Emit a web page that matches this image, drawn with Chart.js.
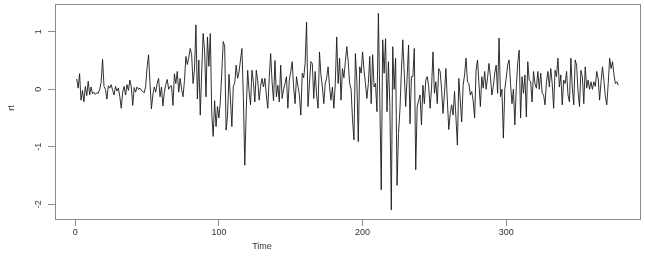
<!DOCTYPE html>
<html>
<head>
<meta charset="utf-8">
<script src="https://cdn.jsdelivr.net/npm/chart.js@4/dist/chart.umd.min.js"></script>
<style>
  html, body { margin: 0; padding: 0; background: #fff; }
  canvas { display: block; }
</style>
</head>
<body>
<canvas id="c" width="645" height="256"></canvas>
<script>
// ---- data ----
const rt = [
  0.18, 0.02, 0.27, -0.19, -0.02, -0.22, 0.05, -0.11, 0.14, -0.1,
  0.04, -0.08, -0.05, -0.09, -0.06, -0.07, 0.0, 0.12, 0.52, 0.05,
  0.0, -0.17, 0.06, 0.02, 0.08, -0.02, -0.1, 0.05, -0.03, 0.02,
  -0.13, -0.33, -0.05, 0.05, -0.1, 0.08, -0.02, 0.16, 0.04, -0.28,
  0.03, -0.05, 0.04, 0.0, 0.02, -0.02, -0.04, -0.06, 0.05, 0.38,
  0.6, 0.12, -0.34, -0.1, 0.04, -0.05, 0.1, 0.19, -0.13, 0.04,
  -0.29, -0.05, 0.08, 0.17, 0.0, 0.05, 0.06, -0.28, 0.27, 0.1,
  0.31, -0.05, 0.19, 0.0, -0.13, 0.15, 0.57, 0.43, 0.55, 0.71,
  0.6, 0.1, 0.35, 1.12, -0.17, 0.51, -0.45, 0.3, 0.97, 0.68,
  -0.13, 0.91, 0.4, 0.97, -0.42, -0.82, -0.2, -0.65, -0.3, -0.5,
  -0.2, 0.3, 0.83, 0.75, -0.71, -0.45, 0.26, -0.15, -0.65, 0.05,
  0.11, 0.42, 0.19, 0.3, 0.51, 0.71, -0.13, -1.32, -0.36, 0.33,
  -0.04, -0.27, 0.33, 0.12, -0.22, 0.33, 0.15, -0.19, 0.05, 0.19,
  0.04, 0.19, -0.1, -0.33, 0.2, 0.62, 0.13, -0.2, 0.5, -0.13,
  0.07, -0.22, 0.42, -0.16, 0.0, 0.1, 0.22, -0.33, 0.16, 0.31,
  0.48, 0.04, -0.25, 0.22, 0.05, -0.1, -0.45, 0.28, 0.2, 0.45,
  1.17, -0.3, 0.1, 0.48, 0.45, -0.16, 0.31, -0.1, -0.33, 0.65,
  0.25, 0.04, -0.25, 0.1, 0.2, 0.39, 0.05, -0.19, 0.04, -0.33,
  0.1, 0.91, 0.1, 0.54, -0.19, 0.36, 0.2, 0.48, 0.74, 0.48,
  0.1, 0.0, -0.53, -0.88, 0.62, 0.16, -0.91, 0.39, 0.28, 0.65,
  0.33, 0.1, -0.16, 0.1, 0.57, -0.25, 0.6, 0.04, 0.1, -0.39,
  1.32, -0.19, -1.75, 0.86, 0.28, 0.88, -0.39, 0.48, -0.3, -2.1,
  0.74, 0.0, 0.54, -1.67, -0.77, -0.36, 0.3, 0.86, 0.28, -0.3,
  0.2, 0.77, -0.6, 0.22, 0.22, 0.71, -1.4, -0.3, -0.2, -0.1,
  -0.62, 0.07, -0.25, 0.16, 0.22, 0.05, -0.33, 0.02, 0.65, -0.07,
  0.13, -0.25, 0.36, 0.31, 0.0, -0.42, -0.07, 0.36, -0.19, -0.7,
  -0.42, -0.27, -0.45, -0.04, -0.5, -0.97, 0.19, -0.19, -0.57, 0.07,
  0.25, 0.54, 0.13, 0.1, -0.1, -0.04, -0.2, -0.5, 0.33, 0.51,
  0.1, -0.3, 0.22, 0.02, 0.31, 0.0, 0.2, 0.45, 0.22, -0.1,
  0.05, 0.28, 0.42, -0.07, 0.89, -0.13, 0.0, -0.85, 0.0, 0.2,
  0.42, 0.51, 0.1, -0.25, 0.0, -0.62, 0.04, 0.45, 0.68, -0.5,
  0.22, -0.07, 0.25, -0.48, 0.48, 0.16, 0.13, -0.22, 0.31, 0.1,
  0.02, 0.31, 0.0, 0.28, -0.07, -0.1, -0.27, 0.13, 0.31, 0.04,
  0.36, 0.1, -0.33, 0.33, 0.22, 0.54, 0.04, 0.25, -0.27, 0.16,
  0.1, 0.31, -0.1, -0.22, 0.54, 0.02, -0.27, 0.51, 0.42, -0.04,
  -0.3, 0.33, 0.22, -0.25, 0.39, 0.02, 0.16, 0.0, 0.13, 0.0,
  0.13, 0.05, 0.31, 0.19, -0.19, 0.13, 0.39, 0.16, -0.13, -0.27,
  0.1, 0.54, 0.36, 0.48, 0.25, 0.1, 0.13, 0.07
];
const timeIndex = rt.map((_, i) => i + 1);
const xTicks = [0, 100, 200, 300];
const yTicks = [-2, -1, 0, 1];
const xLabel = 'Time';
const yLabel = 'rt';

// ---- chart ----
const points = timeIndex.map((t, i) => ({ x: t, y: rt[i] }));
const axisGrey = '#8c8c8c';
const textCol = '#333333';
const FONT = 'Liberation Sans, Arial, sans-serif';

const boxPlugin = {
  id: 'box',
  afterDraw(chart) {
    const { ctx, chartArea: a } = chart;
    ctx.save();
    ctx.strokeStyle = axisGrey;
    ctx.lineWidth = 1;
    ctx.strokeRect(Math.round(a.left) + 0.5, Math.round(a.top) + 0.5,
      Math.round(a.right - a.left), Math.round(a.bottom - a.top));
    // axis titles, placed as in the reference
    ctx.fillStyle = textCol;
    ctx.font = '9px ' + FONT;
    ctx.textAlign = 'center';
    ctx.textBaseline = 'middle';
    ctx.fillText(xLabel, 262, 247);
    ctx.translate(11.5, 108);
    ctx.rotate(-Math.PI / 2);
    ctx.fillText(yLabel, 0, 0);
    ctx.restore();
  }
};

function noPad(s) {
  s.paddingTop = 0; s.paddingBottom = 0; s.paddingLeft = 0; s.paddingRight = 0;
}

new Chart(document.getElementById('c'), {
  type: 'line',
  data: {
    datasets: [{
      data: points,
      borderColor: '#1a1a1a',
      borderWidth: 0.9,
      pointRadius: 0,
      tension: 0,
      fill: false
    }]
  },
  options: {
    responsive: false,
    animation: false,
    events: [],
    layout: { padding: { top: 4, right: 5, left: 0, bottom: 0 } },
    plugins: { legend: { display: false }, tooltip: { enabled: false } },
    scales: {
      x: {
        type: 'linear',
        min: -14.12,
        max: 393.12,
        afterBuildTicks: s => { s.ticks = xTicks.map(v => ({ value: v })); },
        afterFit: s => { s.height = 37; noPad(s); },
        grid: { drawOnChartArea: false, drawTicks: true, tickLength: 7, color: axisGrey },
        border: { display: true, color: axisGrey },
        ticks: {
          font: { family: FONT, size: 9 },
          color: textCol, padding: 1, maxRotation: 0, minRotation: 0
        },
        title: { display: false }
      },
      y: {
        type: 'linear',
        min: -2.256,
        max: 1.483,
        afterBuildTicks: s => { s.ticks = yTicks.map(v => ({ value: v })); },
        afterFit: s => { s.width = 55; noPad(s); },
        grid: { drawOnChartArea: false, drawTicks: true, tickLength: 7, color: axisGrey },
        border: { display: true, color: axisGrey },
        ticks: {
          font: { family: FONT, size: 9 },
          color: textCol, padding: 5, minRotation: 90, maxRotation: 90,
          crossAlign: 'center'
        },
        title: { display: false }
      }
    }
  },
  plugins: [boxPlugin]
});
</script>
</body>
</html>
